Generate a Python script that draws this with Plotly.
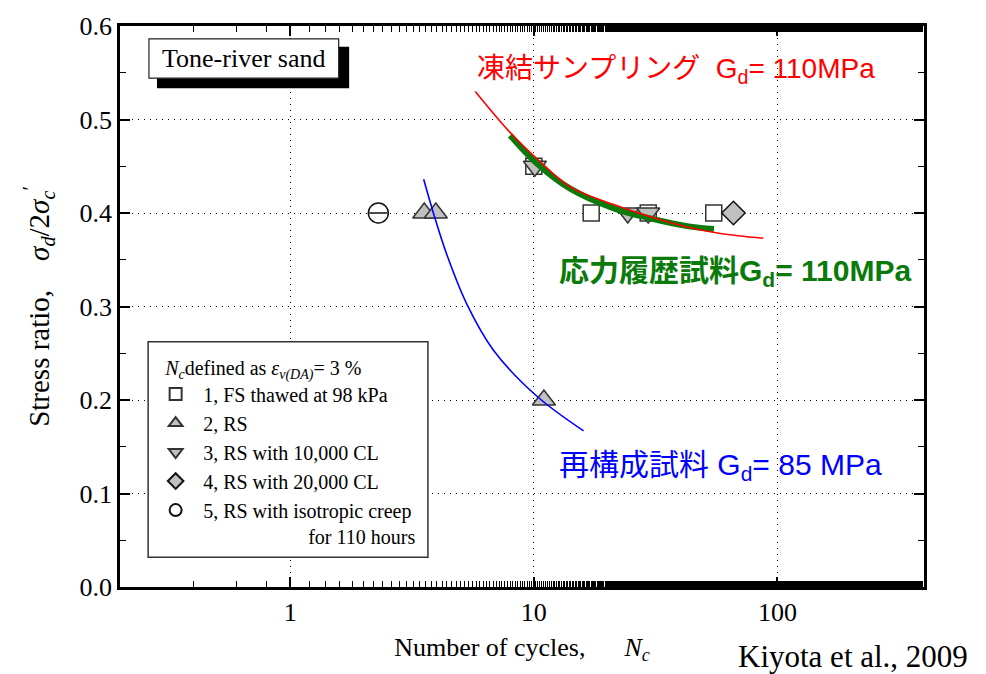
import plotly.graph_objects as go

# ---- test results: number of cycles N_c to reach eps_v(DA) = 3 % ----
fs_n = [10.0, 17.2, 29.5, 54.8]          # 1, FS thawed at 98 kPa
fs_r = [0.45, 0.40, 0.40, 0.40]
rs_n = [3.55, 3.96, 11.0]                # 2, RS
rs_r = [0.40, 0.40, 0.20]
cl10k_n = [10.1, 24.3, 29.5]             # 3, RS with 10,000 CL
cl10k_r = [0.45, 0.40, 0.40]
cl20k_n = [66.0]                         # 4, RS with 20,000 CL
cl20k_r = [0.40]
creep_n = [2.3]                          # 5, RS with isotropic creep
creep_r = [0.40]

# ---- strength curves ----
frozen_n = [5.75, 8.0, 10.3, 14.1, 21.3, 29.2, 42.6, 58.3, 87.5]
frozen_r = [0.530, 0.486, 0.458, 0.428, 0.409, 0.397, 0.385, 0.378, 0.373]
history_n = [8.0, 10.3, 14.1, 21.3, 29.2, 42.6, 54.9]
history_r = [0.483, 0.453, 0.426, 0.405, 0.395, 0.386, 0.383]
recon_n = [3.53, 3.88, 4.40, 5.32, 6.84, 10.3, 16.0]
recon_r = [0.436, 0.399, 0.355, 0.302, 0.253, 0.204, 0.167]

x_ticks = [1, 10, 100]
y_ticks = [0.0, 0.1, 0.2, 0.3, 0.4, 0.5, 0.6]

SERIF = "Liberation Serif, Times New Roman, serif"
SANS = "Liberation Sans, Arial, Noto Sans CJK JP, sans-serif"
GRAY = "#c0c0c0"
EDGE = "#333333"
NB = "\u00a0"

fig = go.Figure()

fig.add_trace(go.Scatter(
    x=fs_n, y=fs_r, mode="markers", name="1, FS thawed at 98 kPa",
    marker=dict(symbol="square", size=16, color="white", line=dict(color=EDGE, width=1.5))))
fig.add_trace(go.Scatter(
    x=rs_n, y=rs_r, mode="markers", name="2, RS",
    marker=dict(symbol="triangle-up", size=20, color=GRAY, line=dict(color=EDGE, width=1.5))))
fig.add_trace(go.Scatter(
    x=cl10k_n, y=cl10k_r, mode="markers", name="3, RS with 10,000 CL",
    marker=dict(symbol="triangle-down", size=20, color=GRAY, line=dict(color=EDGE, width=1.5))))
fig.add_trace(go.Scatter(
    x=cl20k_n, y=cl20k_r, mode="markers", name="4, RS with 20,000 CL",
    marker=dict(symbol="diamond", size=18, color=GRAY, line=dict(color="#111111", width=1.5))))
fig.add_trace(go.Scatter(
    x=creep_n, y=creep_r, mode="markers",
    name="5, RS with isotropic creep<br>" + NB * 21 + "for 110 hours",
    marker=dict(symbol="circle", size=20, color="white", line=dict(color="#111111", width=1.5))))
fig.add_trace(go.Scatter(
    x=creep_n, y=creep_r, mode="markers", showlegend=False,
    marker=dict(symbol="line-ew", size=13, line=dict(color="#111111", width=1.5))))

fig.add_trace(go.Scatter(
    x=history_n, y=history_r, mode="lines", showlegend=False,
    line=dict(color="#0a7a0a", width=6, shape="spline")))
fig.add_trace(go.Scatter(
    x=frozen_n, y=frozen_r, mode="lines", showlegend=False,
    line=dict(color="#ff0000", width=1.6, shape="spline")))
fig.add_trace(go.Scatter(
    x=recon_n, y=recon_r, mode="lines", showlegend=False,
    line=dict(color="#0000ff", width=1.6, shape="spline")))

shapes = [
    # "Tone-river sand" label box with drop shadow
    dict(type="rect", xref="paper", yref="paper", x0=0.046, x1=0.285, y0=0.889, y1=0.963,
         fillcolor="black", line=dict(width=0), layer="above"),
    dict(type="rect", xref="paper", yref="paper", x0=0.036, x1=0.272, y0=0.907, y1=0.977,
         fillcolor="white", line=dict(color="#222222", width=1.2), layer="above"),
    # legend frame
    dict(type="rect", xref="paper", yref="paper", x0=0.035, x1=0.383, y0=0.053, y1=0.437,
         fillcolor="white", line=dict(color="#333333", width=1.5), layer="above"),
]

annotations = [
    dict(text="Tone-river sand", xref="paper", yref="paper", x=0.1542, y=0.942,
         xanchor="center", yanchor="middle",
         showarrow=False, font=dict(family=SERIF, size=26, color="black")),
    dict(text="凍結サンプリング" + NB * 2 + "G<sub>d</sub>= 110MPa", xref="paper", yref="paper",
         x=0.441, y=0.921, xanchor="left", yanchor="middle", showarrow=False,
         font=dict(family=SANS, size=28, color="#ff0000")),
    dict(text="<b>応力履歴試料G<sub>d</sub>= 110MPa</b>", xref="paper", yref="paper",
         x=0.543, y=0.560, xanchor="left", yanchor="middle", showarrow=False,
         font=dict(family=SANS, size=30, color="#0a7a0a")),
    dict(text="再構成試料" + NB + "G<sub>d</sub>= 85 MPa", xref="paper", yref="paper",
         x=0.543, y=0.214, xanchor="left", yanchor="middle", showarrow=False,
         font=dict(family=SANS, size=30, color="#0000ff")),
    dict(text="Kiyota et al., 2009", xref="paper", yref="paper",
         x=1.057, y=-0.123, xanchor="right", yanchor="middle", showarrow=False,
         font=dict(family=SERIF, size=31, color="black")),
]

fig.update_layout(
    width=986, height=674,
    margin=dict(l=120, r=62, t=17, b=87),
    paper_bgcolor="white", plot_bgcolor="white",
    font=dict(family=SERIF, size=25, color="black"),
    shapes=shapes, annotations=annotations,
    showlegend=True,
    legend=dict(
        x=0.035, y=0.425, xanchor="left", yanchor="top",
        bgcolor="rgba(0,0,0,0)", borderwidth=0,
        font=dict(family=SERIF, size=20, color="black"),
        title=dict(text=NB * 3 + "<i>N</i><sub><i>c</i></sub>defined as <i>ε</i><sub><i>v(DA)</i></sub>= 3 %",
                   font=dict(family=SERIF, size=20)),
        itemwidth=45, valign="top", tracegroupgap=0, itemsizing="constant",
    ),
)

fig.update_xaxes(
    type="log", range=[-0.699, 2.602],
    tickvals=x_ticks, ticktext=[str(v) for v in x_ticks],
    ticks="inside", ticklen=10, tickwidth=1.5, tickcolor="black",
    minor=dict(ticks="inside", ticklen=6, tickwidth=1.2, tickcolor="black", showgrid=False),
    showline=True, linecolor="black", linewidth=2.5, mirror="ticks",
    showgrid=True, gridcolor="black", gridwidth=1, griddash="1px,5px",
    zeroline=False,
    tickfont=dict(family=SERIF, size=26),
    title=dict(text=NB * 2 + "Number of cycles," + NB * 6 + "<i>N</i><sub><i>c</i></sub>",
               font=dict(family=SERIF, size=26), standoff=12),
)
fig.update_yaxes(
    range=[0, 0.6], tickvals=y_ticks, ticktext=[f"{v:.1f}" for v in y_ticks],
    ticks="inside", ticklen=10, tickwidth=1.5, tickcolor="black",
    minor=dict(ticks="inside", ticklen=6, tickwidth=1.2, tickcolor="black",
               dtick=0.05, showgrid=False),
    showline=True, linecolor="black", linewidth=2.5, mirror="ticks",
    showgrid=True, gridcolor="black", gridwidth=1, griddash="1px,5px",
    zeroline=False,
    tickfont=dict(family=SERIF, size=26),
    title=dict(text="Stress ratio," + NB * 4 + "<i>σ</i><sub><i>d</i></sub>/2<i>σ</i><sub><i>c</i></sub><sup>′</sup>",
               font=dict(family=SERIF, size=29), standoff=22),
)

fig.write_html("out.html")
